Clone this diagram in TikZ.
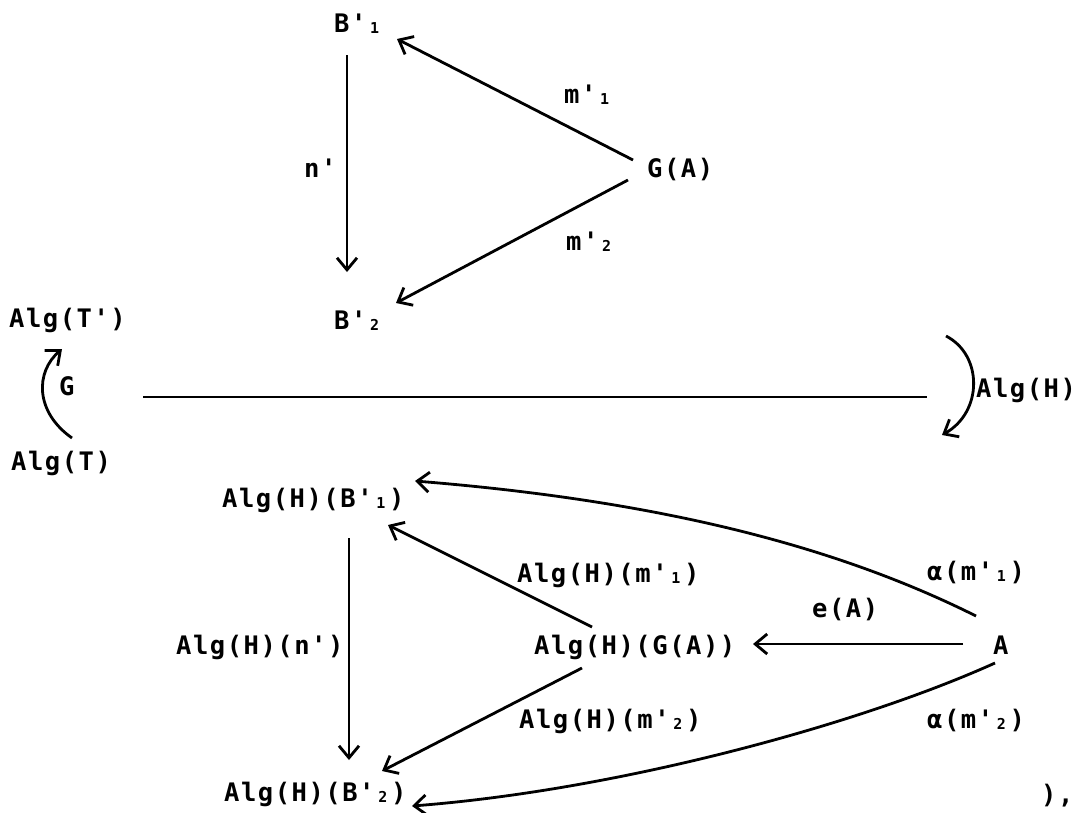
\documentclass[tikz,border=0pt]{standalone}
\usepackage{fontspec}
\setmonofont{DejaVu Sans Mono}[LetterSpace=6]
\usetikzlibrary{arrows.meta}
\newcommand\sbs[1]{\makebox[16.5pt][c]{\raisebox{-1.5pt}{\fontsize{15}{15}\selectfont #1}}}
\begin{document}
\begin{tikzpicture}[x=1pt,y=-1pt,
  lbl/.style={anchor=base west, inner sep=0pt, font=\fontsize{25.5}{30}\selectfont\ttfamily\bfseries},
  arr/.style={line width=2.8pt, -{Straight Barb[length=12pt,width=20pt,line width=2.8pt]}},
  ln/.style={line width=2.8pt}]
\fill[white] (0,0) rectangle (1074,812);
\useasboundingbox (0,0) rectangle (1074,812);
% top triangle
\node[lbl] (b1) at (334,32) {B'\sbs{1}};
\node[lbl] (ga) at (647,177) {G(A)};
\node[lbl] (b2) at (334,329) {B'\sbs{2}};
\node[lbl] (np) at (304,177) {n'};
\node[lbl] (m1) at (564,103) {m'\sbs{1}};
\node[lbl] (m2) at (566,250) {m'\sbs{2}};
% functor part
\node[lbl] (tp) at (9,327) {Alg(T')};
\node[lbl] (gl) at (59,395) {G};
\node[lbl] (tt) at (11,470) {Alg(T)};
\node[lbl] (ah) at (976,397) {Alg(H)};
\coordinate (hl1) at (143,397);
\coordinate (hl2) at (927,397);
% bottom diagram
\node[lbl] (hb1) at (222,507) {Alg(H)(B'\sbs{1})};
\node[lbl] (hn) at (176,654) {Alg(H)(n')};
\node[lbl] (hga) at (534,654) {Alg(H)(G(A))};
\node[lbl] (aa) at (993,654) {A};
\node[lbl] (hb2) at (224,801) {Alg(H)(B'\sbs{2})};
\node[lbl] (hm1) at (517,582) {Alg(H)(m'\sbs{1})};
\node[lbl] (hm2) at (519,728) {Alg(H)(m'\sbs{2})};
\node[lbl] (al1) at (927,580) {α(m'\sbs{1})};
\node[lbl] (al2) at (927,728) {α(m'\sbs{2})};
\node[lbl] (ea) at (812,617) {e(A)};
\node[lbl] (fin) at (1041,803) {),};
% top arrows
\draw[arr] ([shift={(13,23)}]b1.base west) -- ([shift={(13,-57)}]b2.base west);
\draw[arr] ([shift={(-14,-17)}]ga.base west) -- ([shift={(63,7)}]b1.base west);
\draw[arr] ([shift={(-19,3)}]ga.base west) -- ([shift={(62,-26)}]b2.base west);
% functor arrows
\draw[arr] ([shift={(61,-32)}]tt.base west) .. controls (35,412) and (35,372) .. ([shift={(53,22)}]tp.base west);
\draw[ln] (hl1) -- (hl2);
\draw[arr] ([shift={(-30,-61)}]ah.base west) .. controls (983,355) and (983,412) .. ([shift={(-34,38)}]ah.base west);
% bottom arrows
\draw[arr] ([shift={(127,31)}]hb1.base west) -- ([shift={(125,-41)}]hb2.base west);
\draw[arr] ([shift={(58,-27)}]hga.base west) -- ([shift={(166,18)}]hb1.base west);
\draw[arr] ([shift={(48,14)}]hga.base west) -- ([shift={(158,-30)}]hb2.base west);
\draw[arr] ([shift={(-30,-10)}]aa.base west) -- ([shift={(219,-10)}]hga.base west);
\draw[arr] ([shift={(-17,-38)}]aa.base west) .. controls (830,543) and (650,500) .. ([shift={(193,-26)}]hb1.base west);
\draw[arr] ([shift={(2,9)}]aa.base west) .. controls (860,724) and (620,790) .. ([shift={(188,5)}]hb2.base west);
\end{tikzpicture}
\end{document}
